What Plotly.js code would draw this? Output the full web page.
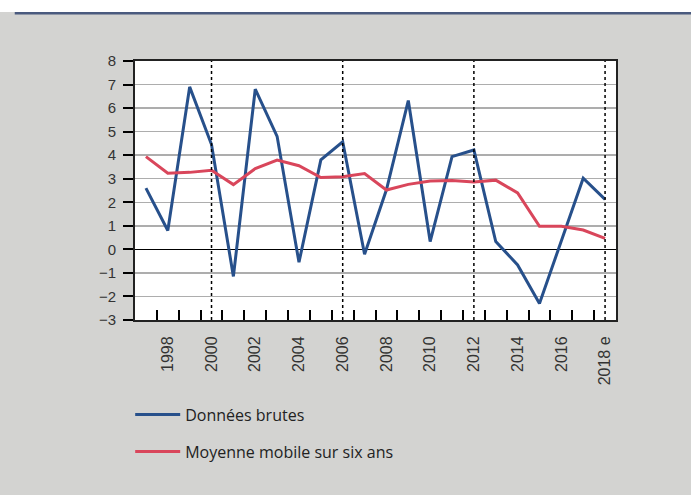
<!DOCTYPE html>
<html>
<head>
<meta charset="utf-8">
<script src="https://cdn.plot.ly/plotly-3.0.1.min.js"></script>
<style>html,body{margin:0;padding:0;background:#d3d3d1;}#chart{width:691px;height:495px;}</style>
</head>
<body>
<div id="chart"></div>
<script>
// Data
var years = [1997,1998,1999,2000,2001,2002,2003,2004,2005,2006,2007,2008,2009,2010,2011,2012,2013,2014,2015,2016,2017,2018];
var rawData = [2.6,0.8,6.9,4.45,-1.15,6.8,4.8,-0.55,3.8,4.57,-0.21,2.53,6.32,0.33,3.94,4.22,0.33,-0.66,-2.3,0.35,3.02,2.12];
var movingAvg = [3.94,3.23,3.27,3.36,2.75,3.43,3.79,3.55,3.05,3.08,3.22,2.52,2.76,2.9,2.92,2.86,2.94,2.4,0.98,0.98,0.82,0.47];
var labelYears = [1998,2000,2002,2004,2006,2008,2010,2012,2014,2016,2018];
var labelTexts = ["1998","2000","2002","2004","2006","2008","2010","2012","2014","2016","2018 e"];
var markerYears = [2000,2006,2012,2018];
var seriesNames = ["Données brutes","Moyenne mobile sur six ans"];

var boundaries = years.slice(0, years.length - 1).map(function(y){ return y + 0.5; });

var traces = [
  {x: years, y: rawData, type: 'scatter', mode: 'lines', name: seriesNames[0],
   legendgroup: 'a', line: {color: '#27508b', width: 3}},
  {x: years, y: movingAvg, type: 'scatter', mode: 'lines', name: seriesNames[1],
   legendgroup: 'b', line: {color: '#d9465b', width: 3}}
];

var shapes = [
  {type: 'rect', xref: 'paper', yref: 'paper', x0: -0.4, x1: 1.3, y0: (320-12)/259, y1: 1.3,
   fillcolor: '#ffffff', line: {width: 0}, layer: 'below'},
  {type: 'line', xref: 'paper', yref: 'paper', x0: -0.25, x1: 1.3, y0: (320-13.3)/259, y1: (320-13.3)/259,
   line: {color: '#4a5a7e', width: 2.5}, layer: 'below'}
];
markerYears.forEach(function(yr){
  shapes.push({type: 'line', xref: 'x', yref: 'paper', x0: yr, x1: yr, y0: 0, y1: 1,
    line: {color: '#000000', width: 1.5, dash: 'dot'}, layer: 'above'});
});

var layout = {
  width: 691, height: 495,
  paper_bgcolor: '#d3d3d1', plot_bgcolor: '#ffffff',
  margin: {l: 135, r: 75, t: 61, b: 175},
  font: {family: 'Liberation Sans, Arial, sans-serif', size: 14, color: '#333333'},
  showlegend: true,
  legend: {x: -0.01, y: -0.3, xanchor: 'left', yanchor: 'top', orientation: 'v',
    bgcolor: 'rgba(0,0,0,0)', font: {family: 'Open Sans, sans-serif', size: 16, color: '#222222'},
    tracegroupgap: 13, itemwidth: 45},
  xaxis: {
    range: [1996.5, 2018.5], showgrid: false, zeroline: false,
    tickmode: 'array', tickvals: labelYears, ticktext: labelTexts, tickangle: -90,
    ticks: '', tickfont: {size: 16, color: '#333333'}, ticklabelstandoff: 8,
    minor: {tickmode: 'array', tickvals: boundaries, ticks: 'inside', ticklen: 10, tickwidth: 2, tickcolor: '#000000', showgrid: false},
    showline: true, linecolor: '#222222', linewidth: 2, mirror: true
  },
  yaxis: {
    range: [-3, 8], dtick: 1, tick0: 0,
    showgrid: true, gridcolor: '#adadad', gridwidth: 1.5,
    zeroline: true, zerolinecolor: '#000000', zerolinewidth: 1.5,
    ticks: 'outside', ticklen: 10, tickwidth: 2, tickcolor: '#000000',
    ticklabelstandoff: 4,
    tickfont: {size: 15, color: '#333333'},
    showline: true, linecolor: '#222222', linewidth: 2, mirror: true
  },
  shapes: shapes
};

Plotly.newPlot('chart', traces, layout, {displayModeBar: false, staticPlot: true});
</script>
</body>
</html>
